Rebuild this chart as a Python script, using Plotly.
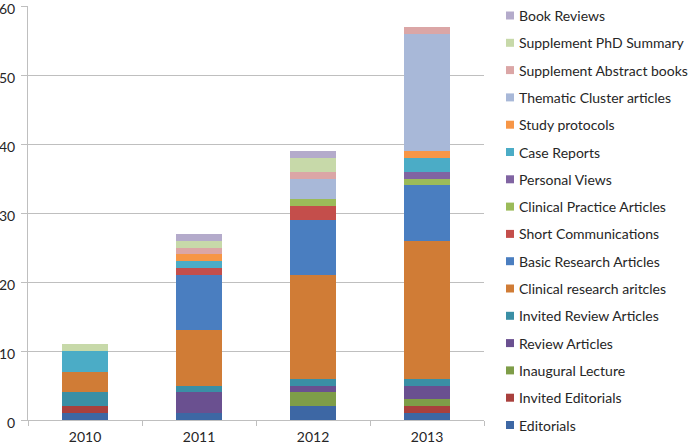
import plotly.graph_objects as go

years = ["2010", "2011", "2012", "2013"]

editorials = [1, 1, 2, 1]
invited_editorials = [1, 0, 0, 1]
inaugural_lecture = [0, 0, 2, 1]
review_articles = [0, 3, 1, 2]
invited_review_articles = [2, 1, 1, 1]
clinical_research = [3, 8, 15, 20]
basic_research = [0, 8, 8, 8]
short_communications = [0, 1, 2, 0]
clinical_practice = [0, 0, 1, 1]
personal_views = [0, 0, 0, 1]
case_reports = [3, 1, 0, 2]
study_protocols = [0, 1, 0, 1]
thematic_cluster = [0, 0, 3, 17]
supplement_abstract = [0, 1, 1, 1]
supplement_phd = [1, 1, 2, 0]
book_reviews = [0, 1, 1, 0]

series = [
    ("Editorials", editorials, "#3D67A4"),
    ("Invited Editorials", invited_editorials, "#A9403D"),
    ("Inaugural Lecture", inaugural_lecture, "#7E9D48"),
    ("Review Articles", review_articles, "#6A5090"),
    ("Invited Review Articles", invited_review_articles, "#3A8FA5"),
    ("Clinical research aritcles", clinical_research, "#D07C36"),
    ("Basic Research Articles", basic_research, "#4A7EC0"),
    ("Short Communications", short_communications, "#C44E4B"),
    ("Clinical Practice Articles", clinical_practice, "#9BBB59"),
    ("Personal Views", personal_views, "#8064A2"),
    ("Case Reports", case_reports, "#4BACC6"),
    ("Study protocols", study_protocols, "#F79646"),
    ("Thematic Cluster articles", thematic_cluster, "#A8B8D8"),
    ("Supplement Abstract books", supplement_abstract, "#DBA6A6"),
    ("Supplement PhD Summary", supplement_phd, "#C7D9A9"),
    ("Book Reviews", book_reviews, "#B4ABCB"),
]

W, H = 699, 445
L, R, T, B = 28, 215, 6, 25
pw = W - L - R
ph = H - T - B

def px_x(x):
    return (x - L) / pw

def px_y(y):
    return (H - B - y) / ph

fig = go.Figure()
for name, vals, col in series:
    fig.add_trace(go.Bar(
        x=years, y=vals, name=name, marker_color=col,
        marker_line_width=0, showlegend=False,
    ))

# legend drawn as layout decorations (Editorials at bottom, Book Reviews on top)
shapes = []
annotations = []
leg_bottom, leg_step = 425.0, 27.3
for i, (name, vals, col) in enumerate(series):
    yc = leg_bottom - i * leg_step
    shapes.append(dict(
        type="rect", xref="paper", yref="paper",
        x0=px_x(506), x1=px_x(514), y0=px_y(yc + 4), y1=px_y(yc - 4),
        fillcolor=col, line=dict(width=0),
    ))
    annotations.append(dict(
        text=name, xref="paper", yref="paper", x=px_x(517), y=px_y(yc),
        xanchor="left", yanchor="middle", showarrow=False,
        font=dict(size=14, color="#262626"),
    ))

fig.update_layout(
    barmode="stack",
    bargap=0.6,
    width=W, height=H,
    margin=dict(l=L, r=R, t=T, b=B, pad=0),
    paper_bgcolor="white", plot_bgcolor="white",
    font=dict(family="Lato, Carlito, 'Open Sans', sans-serif", size=13, color="#262626"),
    showlegend=False,
    shapes=shapes,
    annotations=annotations,
)
fig.update_yaxes(
    range=[0, 60], dtick=10, showgrid=True, gridcolor="#BFBFBF", gridwidth=1,
    showline=True, linecolor="#BFBFBF", linewidth=1,
    ticks="outside", ticklen=6, tickcolor="#BFBFBF",
    zeroline=False, tickfont=dict(size=14), ticklabeloverflow="allow",
    automargin=False, ticklabelstandoff=3, ticklabelshift=3,
)
fig.update_xaxes(
    showline=True, linecolor="#BFBFBF", linewidth=1,
    ticks="outside", ticklen=5, tickcolor="#BFBFBF", tickson="boundaries",
    tickfont=dict(size=14), ticklabeloverflow="allow", automargin=False,
    ticklabelstandoff=4,
)
fig.write_html(
    "out.html",
    config={"displayModeBar": False},
    post_script="document.body.style.margin='0';",
)
